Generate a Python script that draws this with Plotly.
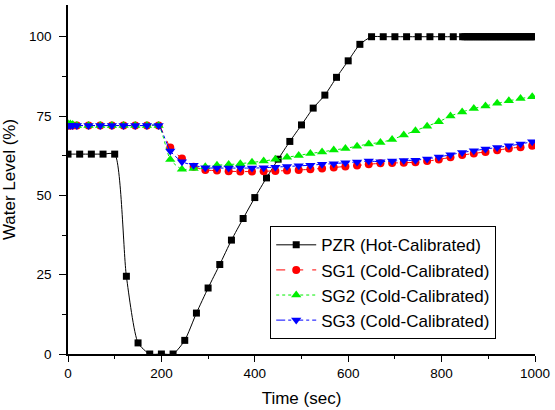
import plotly.graph_objects as go

# ---- data ----
pzr_t = [0, 25, 50, 75, 100, 125, 150, 175, 200, 225, 250, 275, 300, 325, 350, 375, 400,
         425, 450, 475, 500, 525, 550, 575, 600, 625, 650, 675, 700, 725, 750, 775, 800, 825,
         845, 850, 855, 860, 865, 870, 875, 880, 885, 890, 895, 900, 905, 910, 915, 920, 925,
         930, 935, 940, 945, 950, 955, 960, 965, 970, 975, 980, 985, 990, 995, 1000]
pzr_v = [63, 63, 63, 63, 63, 24.5, 3.5, 0, 0, 0, 4.3, 12.9, 20.8, 28.2, 35.9, 42.7, 49.3,
         55.5, 61.4, 67.0, 72.2, 77.5, 81.6, 87.2, 92.4, 97.6, 100, 100, 100, 100, 100, 100, 100, 100,
         100, 100, 100, 100, 100, 100, 100, 100, 100, 100, 100, 100, 100, 100, 100, 100, 100,
         100, 100, 100, 100, 100, 100, 100, 100, 100, 100, 100, 100, 100, 100, 100]

sg_t = [0, 5, 10, 19, 44, 69, 94, 119, 144, 169, 194, 219, 244, 269, 294, 319, 344, 369, 394,
        419, 444, 469, 494, 519, 544, 569, 594, 619, 644, 669, 694, 719, 744, 769, 794, 819,
        844, 869, 894, 919, 944, 969, 994]
sg1_v = [72, 72, 72, 72, 72, 72, 72, 72, 72, 72, 72, 65.1, 61.6, 59.0, 58.0, 57.8, 57.6, 57.5, 57.5,
         57.6, 57.7, 57.8, 58.0, 58.2, 58.5, 58.8, 59.1, 59.4, 59.8, 60.1, 60.2, 60.3, 60.4, 60.8, 61.3, 62.0,
         62.7, 63.2, 63.7, 64.2, 64.8, 65.2, 65.6]
sg2_v = [72.6, 72.5, 72.3, 72, 72, 72, 72, 72, 72, 72, 72, 61.3, 58.2, 58.5, 59.0, 59.5, 59.7, 60.0, 60.4,
         60.8, 61.4, 62.0, 62.6, 63.2, 63.7, 64.3, 64.8, 65.5, 66.2, 66.7, 67.6, 69.0, 70.4, 71.8, 73.2, 75.0,
         76.3, 77.4, 78.2, 79.0, 79.8, 80.5, 81.1]
sg3_v = [72, 72, 72, 72, 72, 72, 72, 72, 72, 72, 72, 64.0, 60.6, 59.5, 58.7, 58.6, 58.6, 58.6, 58.6,
         58.7, 58.9, 59.1, 59.3, 59.5, 59.8, 60.0, 60.3, 60.5, 60.8, 60.6, 60.8, 61.0, 61.1, 61.5, 62.1, 62.8,
         63.5, 64.1, 64.6, 65.1, 65.6, 66.2, 66.9]

names = ["PZR (Hot-Calibrated)", "SG1 (Cold-Calibrated)", "SG2 (Cold-Calibrated)", "SG3 (Cold-Calibrated)"]

FONT = "Liberation Sans, Arial, sans-serif"

fig = go.Figure()
fig.add_trace(go.Scatter(x=pzr_t, y=pzr_v, name=names[0], mode="lines+markers",
                         line=dict(color="black", width=1, shape="spline", smoothing=0.6),
                         marker=dict(symbol="square", size=7, color="black")))
fig.add_trace(go.Scatter(x=sg_t, y=sg1_v, name=names[1], mode="lines+markers",
                         line=dict(color="red", width=1, dash="dash", shape="spline", smoothing=0.6),
                         marker=dict(symbol="circle", size=8, color="red")))
fig.add_trace(go.Scatter(x=sg_t, y=sg2_v, name=names[2], mode="lines+markers",
                         line=dict(color="#00ee00", width=1, dash="dot", shape="spline", smoothing=0.6),
                         marker=dict(symbol="triangle-up", size=9, color="#00ee00")))
fig.add_trace(go.Scatter(x=sg_t, y=sg3_v, name=names[3], mode="lines+markers",
                         line=dict(color="blue", width=1, dash="dashdot", shape="spline", smoothing=0.6),
                         marker=dict(symbol="triangle-down", size=9, color="blue")))

fig.update_layout(
    width=555, height=410,
    margin=dict(l=68, r=16, t=5, b=56),
    paper_bgcolor="white", plot_bgcolor="white",
    font=dict(family=FONT, size=13, color="black"),
    showlegend=True,
    legend=dict(x=0.433, y=0.366, xanchor="left", yanchor="top",
                bgcolor="white", bordercolor="black", borderwidth=1,
                font=dict(family=FONT, size=17, color="black"),
                tracegroupgap=0, itemwidth=40),
)
fig.update_xaxes(range=[0, 1000], showline=True, linecolor="black", linewidth=1.5,
                 showgrid=False, zeroline=False, ticks="outside", ticklen=6, tickwidth=1.2,
                 tickcolor="black", tickvals=[0, 200, 400, 600, 800, 1000],
                 minor=dict(dtick=100, ticks="outside", ticklen=3, tickwidth=1.2, tickcolor="black", showgrid=False),
                 tickfont=dict(size=13.5),
                 title=dict(text="Time (sec)", font=dict(size=17), standoff=12))
fig.update_yaxes(range=[0, 110], showline=True, linecolor="black", linewidth=1.5,
                 showgrid=False, zeroline=False, ticks="outside", ticklen=7, tickwidth=1.2,
                 tickcolor="black", tickvals=[0, 25, 50, 75, 100], ticklabelstandoff=5,
                 minor=dict(dtick=12.5, ticks="outside", ticklen=4, tickwidth=1.2, tickcolor="black", showgrid=False),
                 tickfont=dict(size=13.5),
                 title=dict(text="Water Level (%)", font=dict(size=17), standoff=12))

fig.write_html("out.html")
